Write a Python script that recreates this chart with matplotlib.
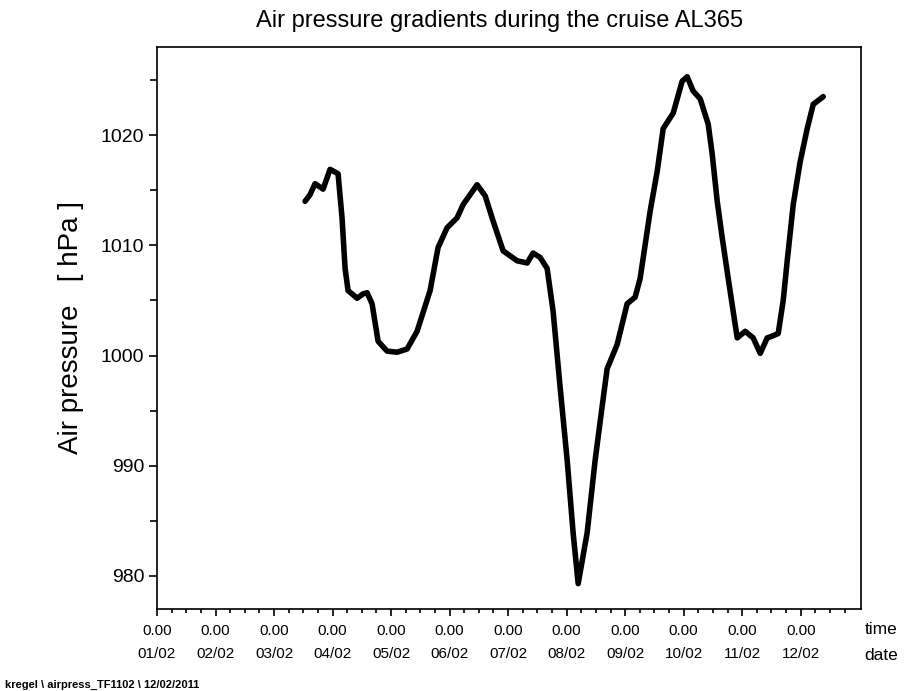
import matplotlib
matplotlib.use("Agg")
import matplotlib.pyplot as plt
import numpy as np

plt.rcParams['font.family'] = ['Liberation Sans', 'DejaVu Sans']

# time in days since 01/02 00:00, air pressure in hPa
days = [2.530, 2.615, 2.701, 2.838, 2.957, 3.094, 3.162, 3.214, 3.265, 3.419,
        3.521, 3.590, 3.675, 3.778, 3.932, 4.103, 4.274, 4.444, 4.667, 4.803,
        4.957, 5.128, 5.231, 5.350, 5.470, 5.607, 5.744, 5.915, 6.154, 6.325,
        6.427, 6.547, 6.667, 6.769, 6.889, 7.009, 7.111, 7.197, 7.350, 7.487,
        7.607, 7.692, 7.863, 8.034, 8.171, 8.256, 8.427, 8.547, 8.650, 8.821,
        8.974, 9.060, 9.162, 9.282, 9.419, 9.487, 9.573, 9.658, 9.761, 9.846,
        9.915, 10.051, 10.188, 10.308, 10.427, 10.530, 10.615, 10.701, 10.769, 10.872,
        10.991, 11.111, 11.214, 11.385]
pressure = [1014.0, 1014.6, 1015.6, 1015.1, 1016.9, 1016.5, 1012.5, 1007.9, 1005.9, 1005.2,
            1005.6, 1005.7, 1004.7, 1001.3, 1000.4, 1000.3, 1000.6, 1002.2, 1005.9, 1009.8,
            1011.6, 1012.5, 1013.7, 1014.6, 1015.5, 1014.5, 1012.2, 1009.5, 1008.6, 1008.4,
            1009.3, 1008.9, 1007.9, 1004.0, 997.1, 990.5, 983.9, 979.3, 983.9, 990.5,
            995.4, 998.8, 1001.0, 1004.7, 1005.3, 1007.0, 1013.1, 1016.7, 1020.6, 1022.0,
            1024.9, 1025.3, 1024.0, 1023.3, 1021.0, 1018.3, 1014.0, 1010.7, 1007.0, 1004.0,
            1001.6, 1002.2, 1001.6, 1000.2, 1001.6, 1001.8, 1002.0, 1005.0, 1008.6, 1013.7,
            1017.6, 1020.6, 1022.8, 1023.5]

date_labels = ["01/02", "02/02", "03/02", "04/02", "05/02", "06/02",
               "07/02", "08/02", "09/02", "10/02", "11/02", "12/02"]
time_labels = ["0.00"] * len(date_labels)

fig = plt.figure(figsize=(9.09, 6.91), dpi=100)
ax = fig.add_axes([157 / 909, 1 - 609 / 691, (861 - 157) / 909, (609 - 47) / 691])

ax.plot(days, pressure, color='black', linewidth=4, solid_capstyle='round',
        solid_joinstyle='round')

ax.set_xlim(0, 12.03)
ax.set_ylim(977, 1028)

ax.set_xticks(range(len(date_labels)))
ax.set_xticklabels([t + "\n" + d for t, d in zip(time_labels, date_labels)],
                   fontsize=11, linespacing=1.8)
ax.set_xticks(np.arange(0, 12, 0.25), minor=True)
ax.set_yticks([980, 990, 1000, 1010, 1020])
ax.set_yticks([985, 995, 1005, 1015, 1025], minor=True)
ax.tick_params(axis='y', labelsize=14)

ax.tick_params(axis='x', which='major', direction='out', length=5, width=1.2, pad=6)
ax.tick_params(axis='x', which='minor', direction='out', length=3, width=1.2)
ax.tick_params(axis='y', which='major', direction='out', length=6, width=1.2, pad=3)
ax.tick_params(axis='y', which='minor', direction='out', length=5, width=1.2)

for s in ax.spines.values():
    s.set_linewidth(1.2)

fig.text(500 / 909, 1 - 21 / 691, "Air pressure gradients during the cruise AL365",
         fontsize=17, ha='center', va='center')
ax.set_ylabel("Air pressure   [ hPa ]", fontsize=20, labelpad=12)

fig.text(881 / 909, 1 - 630 / 691, "time", fontsize=12.5, ha='center', va='center')
fig.text(881 / 909, 1 - 656 / 691, "date", fontsize=12.5, ha='center', va='center')
fig.text(5 / 909, 1 - 685 / 691, "kregel \\ airpress_TF1102 \\ 12/02/2011",
         fontsize=8, fontweight='bold', ha='left', va='center')

plt.savefig("out.png", dpi=100)
